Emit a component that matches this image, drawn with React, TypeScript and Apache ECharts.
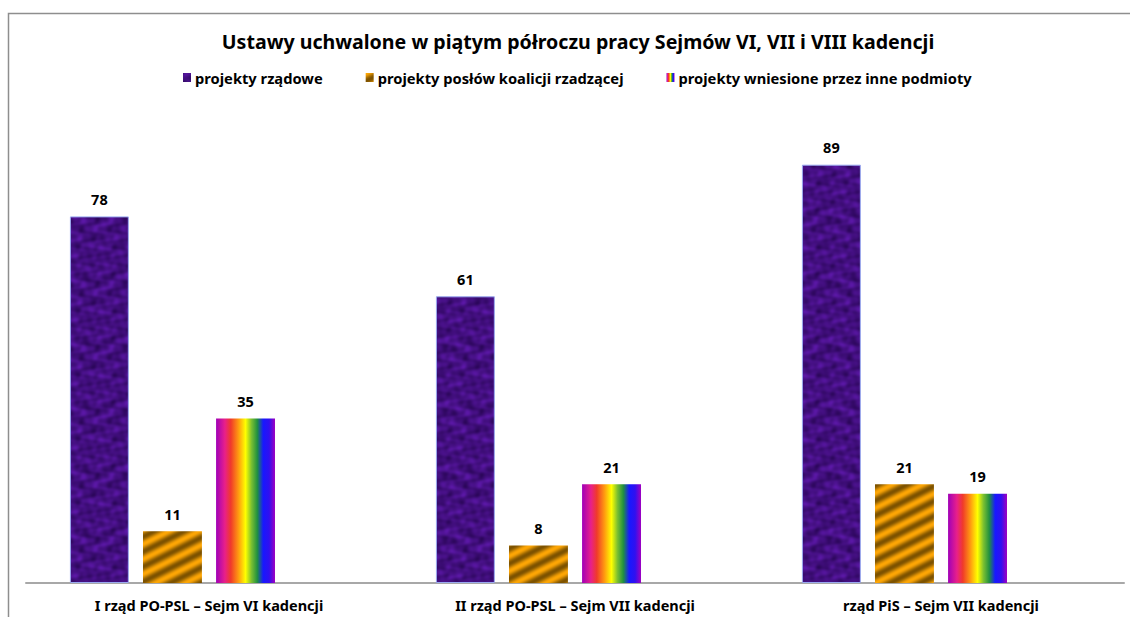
import React, { useEffect, useRef } from "react";
import * as echarts from "echarts";

const categories = [
  "I rząd PO-PSL – Sejm VI kadencji",
  "II rząd PO-PSL – Sejm VII kadencji",
  "rząd PiS – Sejm VII kadencji",
];
const seriesNames = [
  "projekty rządowe",
  "projekty posłów koalicji rzadzącej",
  "projekty wniesione przez inne podmioty",
];
const rzadowe = [78, 61, 89];
const poslowKoalicji = [11, 8, 21];
const innePodmioty = [35, 21, 19];

function makePurpleTexture(): HTMLCanvasElement {
  const c = document.createElement("canvas");
  const W = 64, H = 64;
  c.width = W; c.height = H;
  const ctx = c.getContext("2d")!;
  const img = ctx.createImageData(W, H);
  const TP = 2 * Math.PI;
  for (let y = 0; y < H; y++) {
    for (let x = 0; x < W; x++) {
      const t =
        0.5 +
        0.16 * Math.sin((x * TP) / 32 + Math.sin((y * TP) / 16) * 2.1) +
        0.14 * Math.sin((y * TP) / 21.333 + Math.cos((x * TP) / 64) * 2.7) +
        0.1 * Math.sin(((3 * x + 5 * y) * TP) / 64 + Math.sin((x * TP) / 16)) +
        0.08 * Math.sin(((7 * x - 2 * y) * TP) / 64);
      const i = (y * W + x) * 4;
      img.data[i] = Math.round(42 + 50 * t);
      img.data[i + 1] = Math.round(6 + 18 * t);
      img.data[i + 2] = Math.round(88 + 80 * t);
      img.data[i + 3] = 255;
    }
  }
  ctx.putImageData(img, 0, 0);
  return c;
}

function makeOrangeStripes(): HTMLCanvasElement {
  const c = document.createElement("canvas");
  const P = 30;
  const W = P, H = P / 2;
  c.width = W; c.height = H;
  const ctx = c.getContext("2d")!;
  const img = ctx.createImageData(W, H);
  for (let y = 0; y < H; y++) {
    for (let x = 0; x < W; x++) {
      const phase = ((x + 2 * y) % P) / P;
      const t = 0.5 + 0.5 * Math.cos(phase * 2 * Math.PI);
      const i = (y * W + x) * 4;
      img.data[i] = Math.round(125 + 128 * t);
      img.data[i + 1] = Math.round(82 + 84 * t);
      img.data[i + 2] = Math.round(0 + 5 * t);
      img.data[i + 3] = 255;
    }
  }
  ctx.putImageData(img, 0, 0);
  return c;
}

export default function App() {
  const ref = useRef<HTMLDivElement>(null);
  useEffect(() => {
    if (!ref.current) return;
    const chart = echarts.init(ref.current, null, { renderer: "svg" });
    const purple = makePurpleTexture();
    const orange = makeOrangeStripes();
    const purpleFill: any = {
      image: purple,
      repeat: "repeat",
      imageWidth: purple.width,
      imageHeight: purple.height,
    };
    const orangeFill: any = {
      image: orange,
      repeat: "repeat",
      imageWidth: orange.width,
      imageHeight: orange.height,
    };
    const rainbow = new echarts.graphic.LinearGradient(0, 0, 1, 0, [
      { offset: 0, color: "#a000b8" },
      { offset: 0.15, color: "#e8208a" },
      { offset: 0.25, color: "#f03a2a" },
      { offset: 0.38, color: "#ff9a10" },
      { offset: 0.5, color: "#ffff00" },
      { offset: 0.6, color: "#7cc030" },
      { offset: 0.7, color: "#209040" },
      { offset: 0.8, color: "#1818ff" },
      { offset: 0.9, color: "#3010f0" },
      { offset: 1, color: "#a000c0" },
    ]);
    const font = "'Noto Sans', 'Open Sans', sans-serif";
    const labelCfg = {
      show: true,
      position: "top",
      distance: 10,
      fontFamily: font,
      fontWeight: "bold",
      fontSize: 14.5,
      color: "#000",
    };
    chart.setOption({
      animation: false,
      backgroundColor: "#fff",
      title: {
        text: "Ustawy uchwalone w piątym półroczu pracy Sejmów VI, VII i VIII kadencji",
        left: 573,
        textAlign: "center",
        top: 26,
        textStyle: {
          fontFamily: font,
          fontWeight: "bold",
          fontSize: 19.6,
          color: "#000",
        },
      },
      legend: {
        data: seriesNames,
        top: 65,
        left: 178,
        itemWidth: 8,
        itemHeight: 9,
        itemGap: 43,
        icon: "rect",
        itemStyle: { borderWidth: 0 },
        textStyle: {
          fontFamily: font,
          fontWeight: "bold",
          fontSize: 14.7,
          color: "#000",
          padding: [0, 0, 0, -1],
        },
      },
      graphic: [
        {
          type: "rect",
          shape: { x: 8.5, y: 13.5, width: 1300, height: 800 },
          style: { fill: "none", stroke: "#8e8e8e", lineWidth: 1.5 },
          silent: true,
          z: -1,
        },
      ],
      grid: { left: 26, right: 6, top: 113, bottom: 34, containLabel: false },
      xAxis: {
        type: "category",
        data: categories,
        axisLine: { lineStyle: { color: "#a8a8a8", width: 2 } },
        axisTick: { show: false },
        axisLabel: {
          margin: 14,
          fontFamily: font,
          fontWeight: "bold",
          fontSize: 14.5,
          color: "#000",
        },
      },
      yAxis: {
        type: "value",
        min: 0,
        max: 100,
        show: false,
        splitLine: { show: false },
      },
      series: [
        {
          name: seriesNames[0],
          type: "bar",
          data: rzadowe,
          barGap: "24%",
          barCategoryGap: "24%",
          itemStyle: { color: purpleFill, borderColor: "#9aaaf0", borderWidth: 1 },
          label: labelCfg,
        },
        {
          name: seriesNames[1],
          type: "bar",
          data: poslowKoalicji,
          itemStyle: { color: orangeFill },
          label: labelCfg,
        },
        {
          name: seriesNames[2],
          type: "bar",
          data: innePodmioty,
          itemStyle: { color: rainbow },
          label: labelCfg,
        },
        {
          name: "pusta",
          type: "bar",
          data: ["-", "-", "-"],
        },
      ],
    });
    return () => chart.dispose();
  }, []);
  return (
    <div
      ref={ref}
      style={{ position: "fixed", left: 0, top: 0, width: 1130, height: 617, background: "#fff" }}
    />
  );
}
